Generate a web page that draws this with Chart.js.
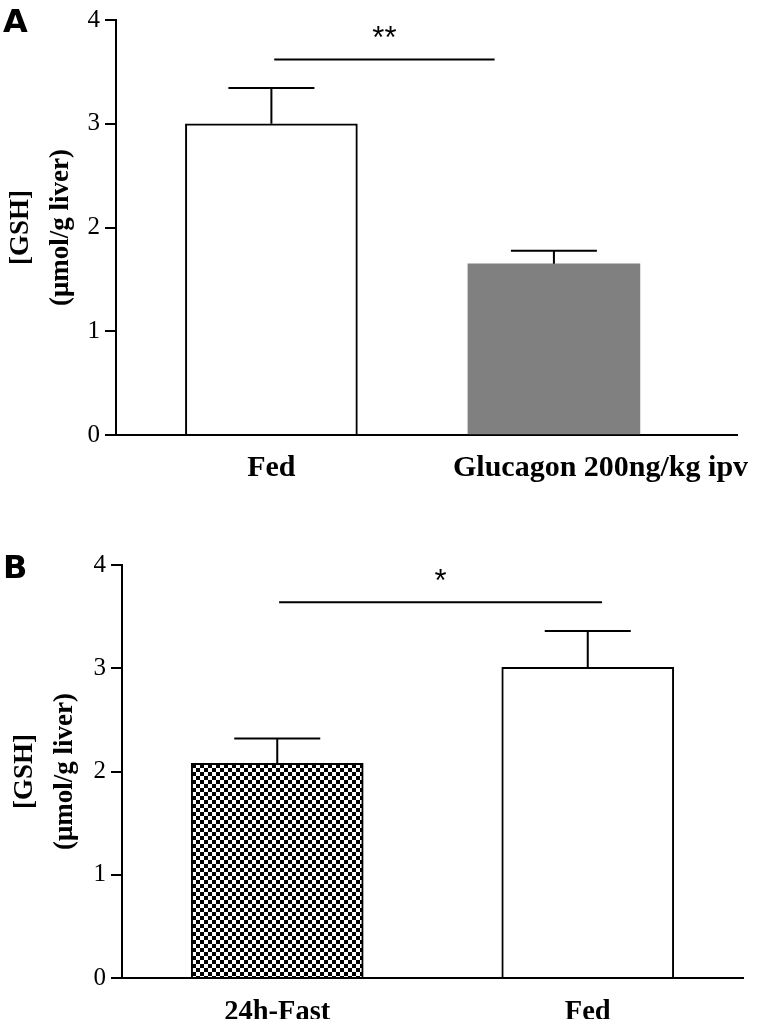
<!DOCTYPE html>
<html lang="en">
<head>
    <meta charset="UTF-8">
    <title>Hepatic GSH - Fed vs Glucagon / Fast</title>
    <style>
        html, body {
            margin: 0;
            padding: 0;
            background-color: #ffffff;
            overflow: hidden;
        }
        .panel {
            position: absolute;
            left: 0;
        }
        .panel canvas {
            display: block;
        }
        #panelA { top: 0; }
        #panelB { top: 500px; }
    </style>
</head>
<body>

<div class="panel" id="panelA"><canvas id="chartA" width="766" height="500"></canvas></div>
<div class="panel" id="panelB"><canvas id="chartB" width="766" height="521"></canvas></div>

<script src="https://cdn.jsdelivr.net/npm/chart.js"></script>
<script>
    // Panel A: fed vs glucagon
    var categoriesA = ['Fed', 'Glucagon 200ng/kg ipv'];
    var meansA = [3.0, 1.65];
    var semA = [0.345, 0.125];

    // Panel B: 24h fast vs fed
    var categoriesB = ['24h-Fast', 'Fed'];
    var meansB = [2.08, 3.01];
    var semB = [0.24, 0.35];

    var yTicks = [0, 1, 2, 3, 4];

    // significance brackets: [from, to, y of line, y of stars, label]
    var sigA = [0.01, 0.79, 3.62, 3.865, '**'];
    var sigB = [0.006, 1.046, 3.64, 3.88, '*'];

    // checkered fill for the fasting bar
    function checkerPattern() {
        var c = document.createElement('canvas');
        c.width = 8;
        c.height = 8;
        var g = c.getContext('2d');
        g.fillStyle = '#ffffff';
        g.fillRect(0, 0, 8, 8);
        g.fillStyle = '#000000';
        g.fillRect(0, 0, 4, 4);
        g.fillRect(4, 4, 4, 4);
        return g.createPattern(c, 'repeat');
    }

    // draws error bars, significance line and panel letter
    var extrasPlugin = {
        id: 'extras',
        afterDatasetsDraw: function (chart) {
            var o = chart.options.plugins.extras;
            var ctx = chart.ctx;
            var xs = chart.scales.x;
            var ys = chart.scales.y;
            ctx.save();
            ctx.strokeStyle = '#000';
            ctx.lineWidth = 2;
            o.means.forEach(function (m, i) {
                var x = xs.getPixelForValue(i);
                var yTop = ys.getPixelForValue(m);
                var yErr = ys.getPixelForValue(m + o.sem[i]);
                ctx.beginPath();
                ctx.moveTo(x, yTop);
                ctx.lineTo(x, yErr);
                ctx.moveTo(x - 43, yErr);
                ctx.lineTo(x + 43, yErr);
                ctx.stroke();
            });
            var s = o.sig;
            var sy = ys.getPixelForValue(s[2]);
            ctx.beginPath();
            ctx.moveTo(xs.getPixelForValue(s[0]), sy);
            ctx.lineTo(xs.getPixelForValue(s[1]), sy);
            ctx.stroke();
            ctx.fillStyle = '#000';
            ctx.font = '31px "Liberation Sans"';
            ctx.textAlign = 'center';
            ctx.textBaseline = 'middle';
            ctx.fillText(s[4], xs.getPixelForValue((s[0] + s[1]) / 2), ys.getPixelForValue(s[3]) + 5);
            ctx.font = 'bold 32px "DejaVu Sans"';
            ctx.textAlign = 'left';
            ctx.textBaseline = 'alphabetic';
            ctx.fillText(o.letter, 3, o.letterY);
            ctx.restore();
        }
    };

    function makePanel(id, cfg) {
        var ctx = document.getElementById(id).getContext('2d');
        return new Chart(ctx, {
            type: 'bar',
            data: {
                datasets: [{
                    data: cfg.means.map(function (m, i) { return { x: i, y: m }; }),
                    backgroundColor: cfg.colors,
                    borderColor: '#000',
                    borderWidth: cfg.borders,
                    barThickness: 172
                }]
            },
            options: {
                responsive: false,
                animation: false,
                layout: { padding: { left: 0, right: cfg.padRight, top: cfg.padTop, bottom: cfg.padBottom } },
                plugins: {
                    legend: { display: false },
                    tooltip: { enabled: false },
                    extras: {
                        means: cfg.means,
                        sem: cfg.sem,
                        sig: cfg.sig,
                        letter: cfg.letter,
                        letterY: cfg.letterY
                    }
                },
                scales: {
                    x: {
                        type: 'linear',
                        offset: false,
                        bounds: 'data',
                        min: cfg.xMin,
                        max: cfg.xMax,
                        grid: { display: false, drawTicks: false },
                        border: { color: '#000', width: 2 },
                        afterBuildTicks: function (scale) {
                            scale.ticks = cfg.labelPos.map(function (v) { return { value: v }; });
                        },
                        afterFit: function (scale) {
                            scale.height = cfg.xHeight;
                            scale.paddingLeft = 0;
                            scale.paddingRight = 0;
                        },
                        ticks: {
                            autoSkip: false,
                            maxRotation: 0,
                            padding: cfg.xPad,
                            color: '#000',
                            font: { family: 'Liberation Serif', size: cfg.xFont, weight: 'bold' },
                            callback: function (v, i) { return cfg.categories[i]; }
                        }
                    },
                    y: {
                        min: 0,
                        max: 4,
                        afterBuildTicks: function (scale) {
                            scale.ticks = yTicks.map(function (v) { return { value: v }; });
                        },
                        afterFit: function (scale) { scale.width = cfg.yWidth; },
                        grid: { display: true, drawOnChartArea: false, drawTicks: true, tickLength: 11, color: '#000', lineWidth: 2 },
                        border: { color: '#000', width: 2 },
                        ticks: {
                            padding: 5,
                            color: '#000',
                            font: { family: 'Liberation Serif', size: 25 }
                        },
                        title: {
                            display: true,
                            text: ['[GSH]', '(\u03bcmol/g liver)'],
                            color: '#000',
                            padding: { top: cfg.titlePad, bottom: 0 },
                            font: { family: 'Liberation Serif', size: 27, weight: 'bold', lineHeight: 1.48 }
                        }
                    }
                }
            },
            plugins: [extrasPlugin]
        });
    }

    makePanel('chartA', {
        categories: categoriesA,
        means: meansA,
        sem: semA,
        sig: sigA,
        colors: ['#ffffff', '#808080'],
        borders: [2, 0],
        letter: 'A',
        letterY: 32,
        xMin: -0.55,
        xMax: 1.648,
        labelPos: [0, 1.165],
        padRight: 29,
        padTop: 20,
        padBottom: 15,
        xHeight: 50,
        xPad: 15,
        xFont: 30,
        yWidth: 116,
        titlePad: 1
    });

    makePanel('chartB', {
        categories: categoriesB,
        means: meansB,
        sem: semB,
        sig: sigB,
        colors: [checkerPattern(), '#ffffff'],
        borders: [2, 2],
        letter: 'B',
        letterY: 78,
        xMin: -0.5,
        xMax: 1.5,
        labelPos: [0, 1],
        padRight: 23,
        padTop: 65,
        padBottom: 2,
        xHeight: 41,
        xPad: 18,
        xFont: 28.5,
        yWidth: 122,
        titlePad: 5
    });
</script>

</body>
</html>
